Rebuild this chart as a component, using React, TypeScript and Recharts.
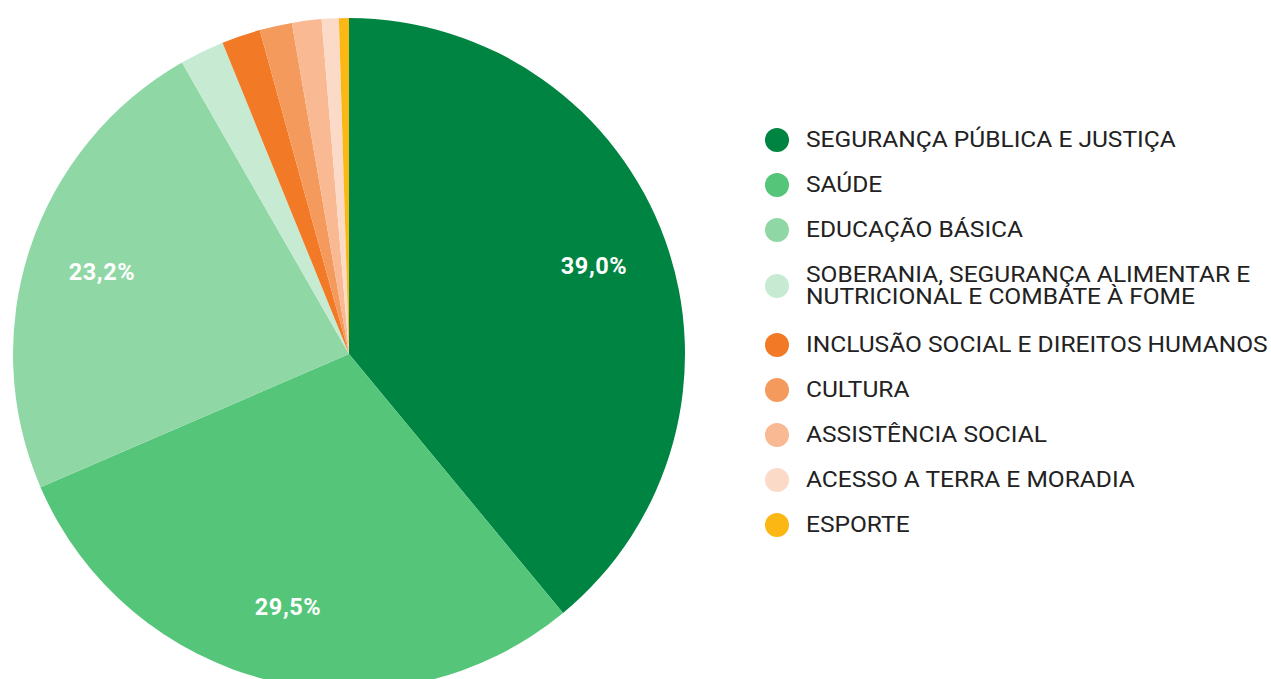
import React from "react";
import { PieChart, Pie, Cell, Legend } from "recharts";

const categories = [
  "SEGURANÇA PÚBLICA E JUSTIÇA",
  "SAÚDE",
  "EDUCAÇÃO BÁSICA",
  "SOBERANIA, SEGURANÇA ALIMENTAR E\nNUTRICIONAL E COMBATE À FOME",
  "INCLUSÃO SOCIAL E DIREITOS HUMANOS",
  "CULTURA",
  "ASSISTÊNCIA SOCIAL",
  "ACESSO A TERRA E MORADIA",
  "ESPORTE",
];
const values = [39.0, 29.5, 23.2, 2.14, 1.86, 1.56, 1.42, 0.82, 0.48];
const shownLabels = ["39,0%", "29,5%", "23,2%", "", "", "", "", "", ""];
const colors = [
  "#008441",
  "#55c57a",
  "#8fd8a5",
  "#c6ebd2",
  "#f27a26",
  "#f59a5d",
  "#f8b993",
  "#fbdac8",
  "#fbb714",
];

const data = categories.map((name, i) => ({ name, value: values[i], label: shownLabels[i] }));

const RADIAN = Math.PI / 180;
const renderLabel = (props: any) => {
  const { cx, cy, midAngle, outerRadius, index } = props;
  const text = data[index].label;
  if (!text) return null;
  const r = outerRadius * 0.775;
  const x = cx + r * Math.cos(-midAngle * RADIAN);
  const y = cy + r * Math.sin(-midAngle * RADIAN);
  return (
    <text
      x={x}
      y={y}
      fill="#ffffff"
      textAnchor="middle"
      dominantBaseline="central"
      fontFamily="Roboto, sans-serif"
      fontWeight={700}
      fontSize={23.5}
      letterSpacing={0.6}
    >
      {text}
    </text>
  );
};

const legendTops = [140, 185, 230, 286, 345, 390, 435, 480, 525];

const renderLegend = () => (
  <div style={{ position: "relative", width: 500, height: 450 }}>
    {data.map((d, i) => {
      const lines = d.name.split("\n");
      return (
        <div key={i}>
          <div
            style={{
              position: "absolute",
              left: 0,
              top: legendTops[i] - 12 - 120,
              width: 24,
              height: 24,
              borderRadius: 12,
              background: colors[i],
            }}
          />
          <div
            style={{
              position: "absolute",
              left: 806 - 765,
              top: legendTops[i] - 120 - (lines.length * 22) / 2,
              fontFamily: "Roboto, sans-serif",
              fontSize: 22,
              lineHeight: "22px",
              color: "#222222",
              whiteSpace: "pre",
              transform: "scaleX(1.115)",
              transformOrigin: "left center",
            }}
          >
            {d.name}
          </div>
        </div>
      );
    })}
  </div>
);

export default function App() {
  return (
    <div style={{ position: "absolute", left: 0, top: 0, width: 1271, height: 679, background: "#fff", overflow: "hidden" }}>
      <PieChart width={1271} height={679}>
        <Pie
          data={data}
          dataKey="value"
          nameKey="name"
          cx={344}
          cy={349}
          outerRadius={336}
          startAngle={90}
          endAngle={-270}
          stroke="none"
          label={renderLabel}
          labelLine={false}
          isAnimationActive={false}
        >
          {data.map((d, i) => (
            <Cell key={i} fill={colors[i]} />
          ))}
        </Pie>
        <Legend
          content={renderLegend}
          wrapperStyle={{ position: "absolute", left: 765, top: 120, width: 500, height: 450 }}
        />
      </PieChart>
    </div>
  );
}
